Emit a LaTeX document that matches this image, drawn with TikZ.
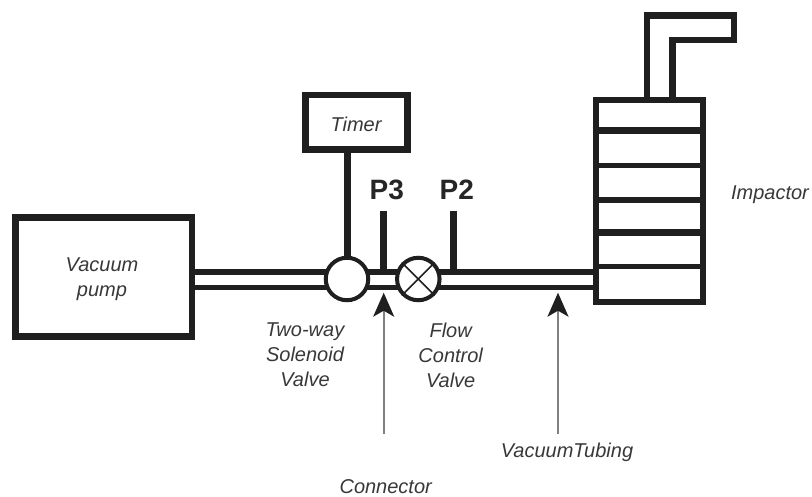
\documentclass[tikz,border=0pt]{standalone}
\usepackage{fontspec}
\setmainfont{Liberation Sans}
\usetikzlibrary{arrows.meta}
\begin{document}
\begin{tikzpicture}
[every node/.style={inner sep=0pt},
 box/.style={rectangle, draw=black!88, fill=white},
 valve/.style={circle, minimum size=42.5pt, fill=white, line width=4pt, draw=black!88},
 caption/.style={font=\fontsize{20}{25}\selectfont\itshape, text=black!78, align=center},
 gauge/.style={font=\fontsize{28}{28}\selectfont\bfseries, text=black!85},
 pipe/.style={draw=black!88, line width=7pt},
 pointer/.style={draw=black!50, line width=2pt, -{Stealth[black!88, length=24pt, width=21pt, inset=6pt]}}]
\useasboundingbox (0pt, 0pt) rectangle (812pt, -497pt);
\node (pump) [box, line width=6.5pt, minimum width=176.5pt, minimum height=119pt] at (103.5pt, -277pt) {};
\node (timer) [box, line width=6.8pt, minimum width=102.2pt, minimum height=54.8pt] at (356.2pt, -122.5pt) {};
\node (impactor) [box, line width=6pt, minimum width=107.3pt, minimum height=201.7pt] at (649.35pt, -201.15pt) {};
\node (pumptext) [caption] at (102pt, -279.5pt) {Vacuum\\pump};
\node (timertext) [caption] at (356pt, -124pt) {Timer};
\node (impactortext) [caption] at (770pt, -195pt) {Impactor};
\node (solenoidtext) [caption] at (305pt, -355pt) {Two-way\\Solenoid\\Valve};
\node (flowtext) [caption] at (450.7pt, -355pt) {Flow\\Control\\Valve};
\node (tubingtext) [caption] at (567pt, -452.5pt) {VacuumTubing};
\node (connectortext) [caption] at (385.7pt, -486.5pt) {Connector};
\node (p3) [gauge] at (386.7pt, -190pt) {P3};
\node (p2) [gauge] at (456.7pt, -190pt) {P2};
\coordinate (uppera) at (pump.east |- 0pt, -272pt);
\coordinate (upperb) at (impactor.west |- 0pt, -272pt);
\coordinate (lowera) at (pump.east |- 0pt, -287.5pt);
\coordinate (lowerb) at (impactor.west |- 0pt, -287.5pt);
\coordinate (p3top) at (383pt, -210.7pt);
\coordinate (p3foot) at (383pt, -272pt);
\coordinate (p2top) at (453.3pt, -210.7pt);
\coordinate (p2foot) at (453.3pt, -272pt);
\coordinate (connectortail) at (383.7pt, -434pt);
\coordinate (connectortip) at (383.7pt, -292.7pt);
\coordinate (tubingtail) at (558pt, -434pt);
\coordinate (tubingtip) at (558pt, -292.7pt);
\coordinate (stacka) at (647pt, -98pt);
\coordinate (stackb) at (647pt, -15.5pt);
\coordinate (stackc) at (734pt, -15.5pt);
\coordinate (stackd) at (734pt, -40pt);
\coordinate (stacke) at (672.5pt, -40pt);
\coordinate (stackf) at (672.5pt, -98pt);
\draw [pipe, line width=6.5pt] (uppera) -- (upperb);
\draw [pipe, line width=5pt] (lowera) -- (lowerb);
\draw [pipe] (p3top) -- (p3foot);
\draw [pipe] (p2top) -- (p2foot);
\node (solenoid) [valve] at (347pt, -279pt) {};
\node (flow) [valve] at (418.3pt, -279pt) {};
\draw [line width=1.5pt, color=black!88] (flow.north west) -- (flow.south east);
\draw [line width=1.5pt, color=black!88] (flow.north east) -- (flow.south west);
\draw [pipe] (timer.south -| solenoid.north) -- (solenoid.north);
\draw [pipe, line width=6.7pt] (impactor.west |- 0pt, -130.7pt) -- (impactor.east |- 0pt, -130.7pt);
\draw [pipe, line width=5pt] (impactor.west |- 0pt, -165.2pt) -- (impactor.east |- 0pt, -165.2pt);
\draw [pipe, line width=6pt] (impactor.west |- 0pt, -199.7pt) -- (impactor.east |- 0pt, -199.7pt);
\draw [pipe, line width=6.7pt] (impactor.west |- 0pt, -232.7pt) -- (impactor.east |- 0pt, -232.7pt);
\draw [pipe, line width=5pt] (impactor.west |- 0pt, -266.8pt) -- (impactor.east |- 0pt, -266.8pt);
\draw [pipe, line width=6.5pt] (stacka) -- (stackb) -- (stackc) -- (stackd) -- (stacke) -- (stackf);
\draw [pointer] (connectortail) -- (connectortip);
\draw [pointer] (tubingtail) -- (tubingtip);
\end{tikzpicture}
\end{document}
